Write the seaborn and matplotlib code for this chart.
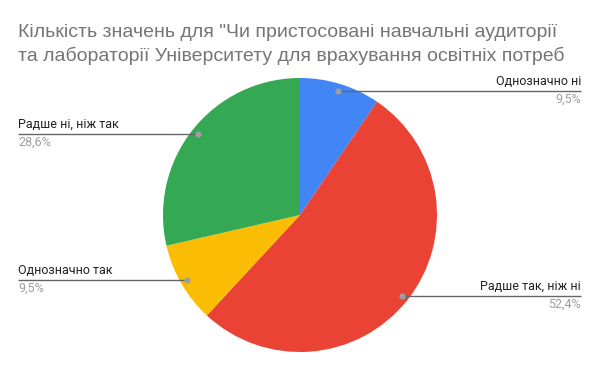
import matplotlib
matplotlib.use("Agg")
import matplotlib.pyplot as plt
import seaborn as sns
import numpy as np

categories = ["Однозначно ні", "Радше так, ніж ні", "Однозначно так", "Радше ні, ніж так"]
values = [9.5, 52.4, 9.5, 28.6]
pct_labels = ["9,5%", "52,4%", "9,5%", "28,6%"]
colors = ["#4285F4", "#EA4335", "#FBBC04", "#34A853"]
title_lines = ["Кількість значень для \"Чи пристосовані навчальні аудиторії",
               "та лабораторії Університету для врахування освітніх потреб"]

sns.set_theme(style="white")
plt.rcParams['font.family'] = ['Roboto', 'DejaVu Sans']

W, H = 600, 371
fig = plt.figure(figsize=(W / 100, H / 100), dpi=100)
ax = fig.add_axes([0, 0, 1, 1])

cx, cy, r = 300, H - 215, 137
wedges, _ = ax.pie(values, colors=colors, startangle=90, counterclock=False,
                   center=(cx, cy), radius=r, frame=True,
                   wedgeprops=dict(linewidth=0))
ax.set_xlim(0, W)
ax.set_ylim(0, H)
ax.set_aspect('equal')
ax.axis('off')

total = sum(values)
start = 90.0
for cat, v, pl in zip(categories, values, pct_labels):
    span = 360 * v / total
    mid = np.deg2rad(start - span / 2)
    start -= span
    dx, dy = cx + 0.95 * r * np.cos(mid), cy + 0.95 * r * np.sin(mid)
    right = np.cos(mid) > 0
    tx = 581 if right else 18
    ax.plot([dx, tx], [dy, dy], color="#666666", lw=1, solid_capstyle='butt', zorder=3)
    ax.plot(dx, dy, 'o', ms=3.5, color="#9e9e9e", zorder=4)
    ha = 'right' if right else 'left'
    ax.text(tx, dy + 3, cat, ha=ha, va='bottom', fontsize=9, color="#222222")
    ax.text(tx, dy - 2, pl, ha=ha, va='top', fontsize=9, color="#9e9e9e")

for i, line in enumerate(title_lines):
    fig.text(18 / W, 1 - (37 + 24 * i) / H, line, ha='left', va='baseline',
             fontsize=14, color="#757575", family=['Liberation Sans', 'DejaVu Sans'])

fig.savefig("out.png", dpi=100)
